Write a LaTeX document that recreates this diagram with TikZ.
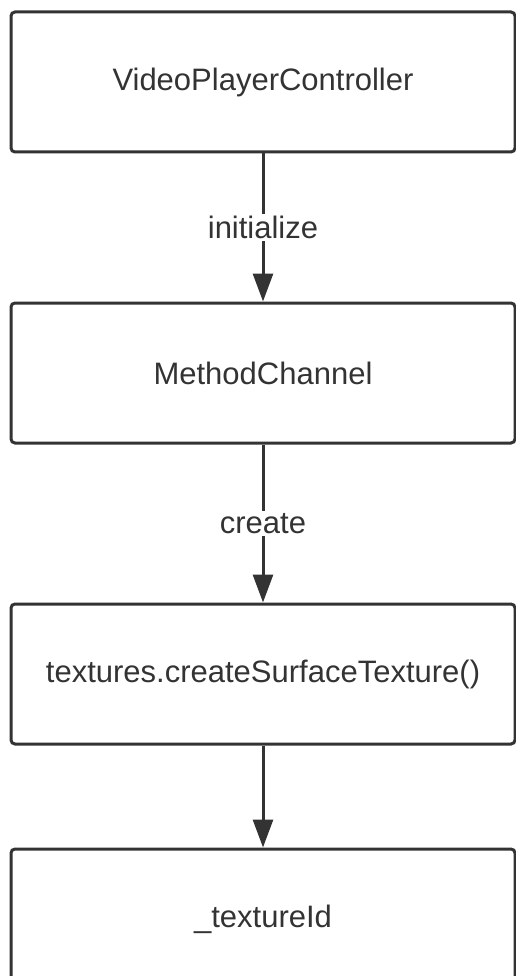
\documentclass[tikz,border=0pt]{standalone}
\usepackage{fontspec}
\setmainfont{Liberation Sans}
\usetikzlibrary{arrows.meta,positioning}
\definecolor{ink}{HTML}{333333}

\begin{document}
\begin{tikzpicture}[
  x=1pt, y=1pt,
  node distance=150pt,
  box/.style={draw=ink, line width=3pt, rounded corners=4pt, align=center,
              minimum width=504pt, minimum height=140pt, inner sep=0pt,
              text=ink, font=\fontsize{31}{36}\selectfont},
  lbl/.style={fill=white, text=ink, inner sep=2pt, font=\fontsize{31}{36}\selectfont},
  arr/.style={-{Triangle[length=28pt, width=20pt]}, draw=ink, line width=3pt}
]
\useasboundingbox (0,0) rectangle (515,-976);
\node[box] (controller) at (263,-82) {VideoPlayerController};
\node[box, below=148pt of controller] (channel) {MethodChannel};
\node[box, below=158pt of channel] (surface) {textures.createSurfaceTexture()};
\node[box, below=102pt of surface] (textureid) {\_textureId};
\draw[arr] (controller) -- node[lbl] {initialize} (channel);
\draw[arr] (channel) -- node[lbl] {create} (surface);
\draw[arr] (surface) -- (textureid);
\end{tikzpicture}
\end{document}
